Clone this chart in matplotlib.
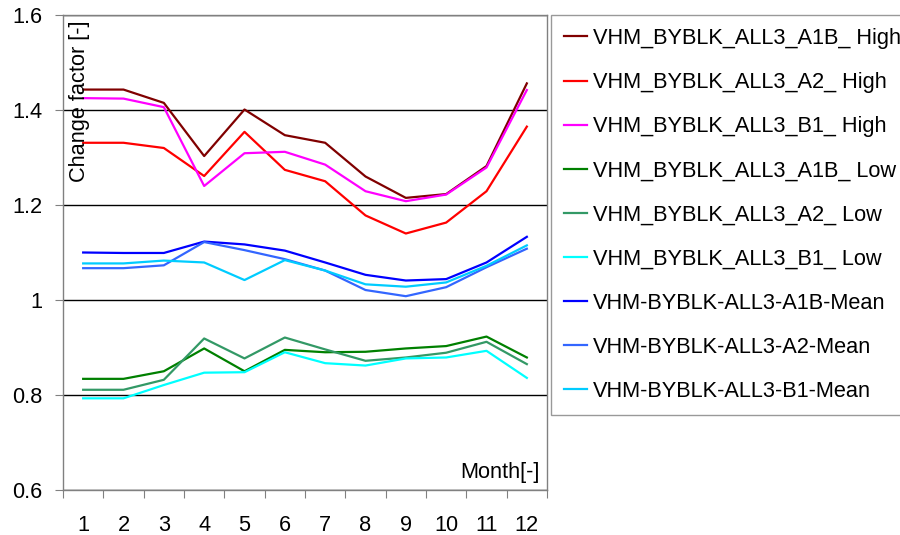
import matplotlib
matplotlib.use("Agg")
import matplotlib.pyplot as plt

plt.rcParams["font.family"] = ["Liberation Sans", "DejaVu Sans"]

months = list(range(1, 13))
month_labels = [str(m) for m in months]

a1b_high = [1.443, 1.443, 1.415, 1.303, 1.401, 1.347, 1.331, 1.260, 1.215, 1.223, 1.282, 1.456]
a2_high = [1.331, 1.331, 1.320, 1.261, 1.354, 1.274, 1.250, 1.178, 1.140, 1.163, 1.229, 1.365]
b1_high = [1.425, 1.424, 1.406, 1.240, 1.309, 1.312, 1.285, 1.229, 1.208, 1.222, 1.279, 1.442]
a1b_low = [0.834, 0.834, 0.850, 0.898, 0.850, 0.895, 0.890, 0.891, 0.898, 0.903, 0.923, 0.879]
a2_low = [0.811, 0.811, 0.832, 0.919, 0.877, 0.921, 0.896, 0.872, 0.879, 0.889, 0.912, 0.865]
b1_low = [0.793, 0.793, 0.821, 0.847, 0.848, 0.890, 0.867, 0.862, 0.877, 0.879, 0.893, 0.836]
a1b_mean = [1.100, 1.099, 1.099, 1.123, 1.117, 1.104, 1.079, 1.053, 1.041, 1.044, 1.079, 1.133]
a2_mean = [1.067, 1.067, 1.073, 1.122, 1.105, 1.086, 1.062, 1.021, 1.008, 1.027, 1.069, 1.108]
b1_mean = [1.077, 1.077, 1.083, 1.079, 1.042, 1.084, 1.062, 1.033, 1.028, 1.037, 1.072, 1.115]

series = [
    ("VHM_BYBLK_ALL3_A1B_ High", a1b_high, "#800000"),
    ("VHM_BYBLK_ALL3_A2_ High", a2_high, "#ff0000"),
    ("VHM_BYBLK_ALL3_B1_ High", b1_high, "#ff00ff"),
    ("VHM_BYBLK_ALL3_A1B_ Low", a1b_low, "#008000"),
    ("VHM_BYBLK_ALL3_A2_ Low", a2_low, "#339966"),
    ("VHM_BYBLK_ALL3_B1_ Low", b1_low, "#00ffff"),
    ("VHM-BYBLK-ALL3-A1B-Mean", a1b_mean, "#0000ff"),
    ("VHM-BYBLK-ALL3-A2-Mean", a2_mean, "#3366ff"),
    ("VHM-BYBLK-ALL3-B1-Mean", b1_mean, "#00ccff"),
]

fig = plt.figure(figsize=(9, 5.35), dpi=100)
ax = fig.add_axes([63 / 900, 1 - 490 / 535, 484 / 900, 475 / 535])

for label, vals, color in series:
    ax.plot(months, vals, color=color, lw=1.6, label=label)

ax.set_xlim(0.5, 12.5)
ax.set_ylim(0.6, 1.6)
ax.set_yticks([0.6, 0.8, 1.0, 1.2, 1.4, 1.6])
ax.set_yticklabels(["0.6", "0.8", "1", "1.2", "1.4", "1.6"])
ax.yaxis.grid(True, color="black", lw=1)
ax.set_axisbelow(True)

# month labels sit between the tick marks
ax.set_xticks([m + 0.5 for m in range(0, 13)])
ax.set_xticklabels([])
ax.set_xticks(months, minor=True)
ax.set_xticklabels(month_labels, minor=True)
ax.tick_params(axis="x", which="major", direction="out", length=6, color="#808080")
ax.tick_params(axis="x", which="minor", length=0, pad=18, labelsize=15.7)
ax.tick_params(axis="y", direction="out", length=6, color="#808080", pad=8.5, labelsize=15.7)

for sp in ax.spines.values():
    sp.set_color("#808080")
    sp.set_linewidth(1)

fig.text(79 / 900, 1 - 20 / 535, "Change factor [-]", rotation=90,
         ha="center", va="top", fontsize=15.7)
ax.text(0.985, 0.037, "Month[-]", transform=ax.transAxes,
        ha="right", va="center", fontsize=15.7)

leg = fig.legend(loc="upper left", bbox_to_anchor=(551 / 900, 1 - 15 / 535),
                 borderaxespad=0, fontsize=15.7, frameon=True, fancybox=False,
                 edgecolor="#808080", handlelength=1.07, handletextpad=0.26,
                 labelspacing=1.06, borderpad=0.6)
leg.get_frame().set_linewidth(1)

fig.savefig("out.png", dpi=100)
